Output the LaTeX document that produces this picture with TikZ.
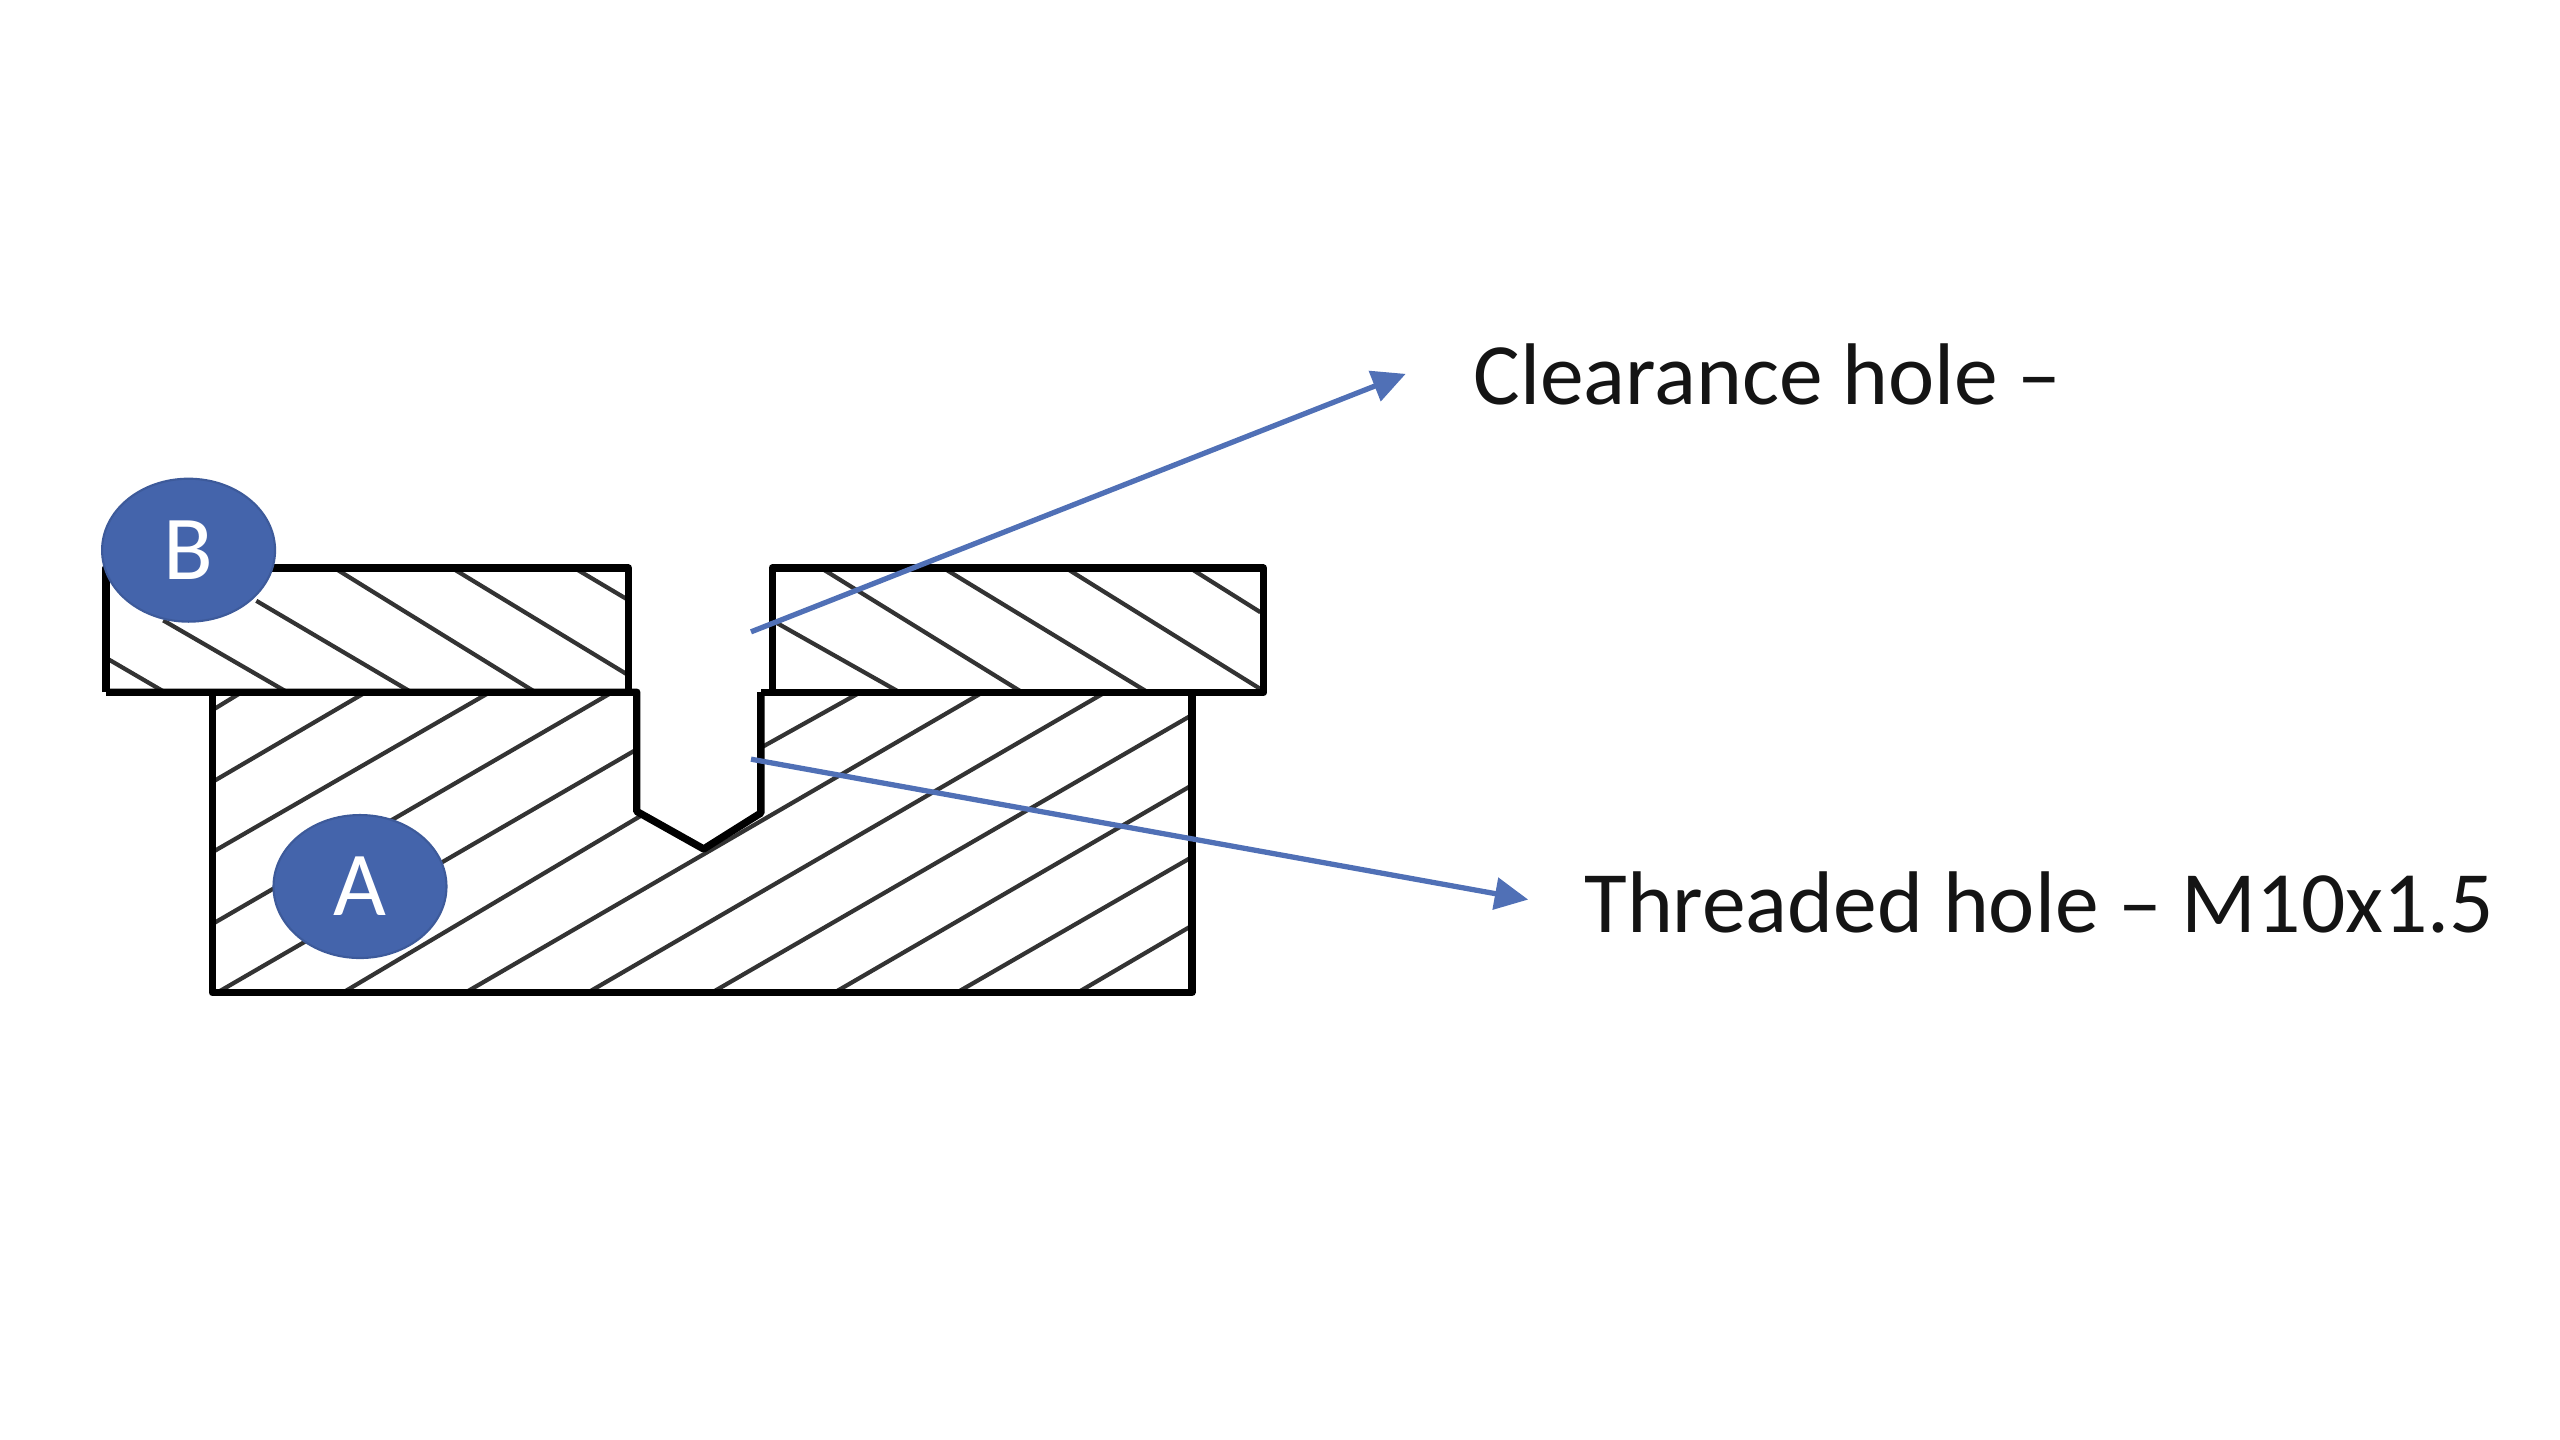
\documentclass[tikz,border=0pt]{standalone}
\usepackage{fontspec}
\setmainfont{Carlito}
\usetikzlibrary{shapes.geometric,arrows.meta}
\definecolor{badgeblue}{HTML}{4464AB}
\definecolor{leaderblue}{HTML}{5070B6}
\definecolor{hatchgray}{HTML}{333333}
\tikzset{
    outline/.style={line width=2.1pt,black,line join=round},
    hatch/.style={line width=1.2pt,hatchgray},
    leader/.style={line width=1.5pt,leaderblue,-{Triangle[length=9.5pt,width=9pt]}},
    badge/.style={ellipse,fill=badgeblue,draw=badgeblue!90!black,line width=.6pt,inner sep=0pt,
        minimum width=1.73cm,minimum height=1.43cm,text=white,font=\fontsize{26pt}{26pt}\selectfont},
    callout/.style={anchor=base west,inner sep=0pt,text=black!92,font=\fontsize{24.9pt}{30pt}\selectfont}
}
\begin{document}
\begin{tikzpicture}[x=.016327cm,y=-.016327cm]
    \useasboundingbox (0,0) rectangle (1568,882);

    % hatching of the plate
    \draw [hatch] (65,403) -- (101,424);
    \draw [hatch] (100,380) -- (176,424);
    \draw [hatch] (157,368) -- (252,424);
    \draw [hatch] (205,348) -- (328,424);
    \draw [hatch] (277,348) -- (384,413);
    \draw [hatch] (352,348) -- (384,367);
    \draw [hatch] (473,380) -- (551,424);
    \draw [hatch] (503,348) -- (626,424);
    \draw [hatch] (578,348) -- (703,424);
    \draw [hatch] (653,348) -- (772,422);
    \draw [hatch] (729,348) -- (772,375);

    % hatching of the block
    \draw [hatch] (130,435) -- (148,424);
    \draw [hatch] (130,479) -- (224,424);
    \draw [hatch] (130,522) -- (300,424);
    \draw [hatch] (130,566) -- (375,424);
    \draw [hatch] (133,608) -- (390,459);
    \draw [hatch] (210,608) -- (392,500);
    \draw [hatch] (466,458) -- (527,424);
    \draw [hatch] (285,608) -- (602,424);
    \draw [hatch] (360,608) -- (677,424);
    \draw [hatch] (436,608) -- (730,438);
    \draw [hatch] (511,608) -- (730,481);
    \draw [hatch] (586,608) -- (730,525);
    \draw [hatch] (660,608) -- (730,567);

    % parts
    \draw [outline] (65,424) -- (65,348) -- (385,348) -- (385,424);
    \draw [outline] (473,424) -- (473,348) -- (774,348) -- (774,424) -- (466,424);
    \draw [outline] (65,424) -- (390,424) -- (390,497) -- (431,520) -- (466,498) -- (466,424);
    \draw [outline] (130,424) -- (130,608) -- (730,608) -- (730,424);

    % labels
    \node [badge] (plate) at (115.5,337) {B};
    \node [badge] (block) at (220.5,543) {A};
    \node [callout] (clearance) at (902,248) {Clearance hole –};
    \node [callout] (threaded) at (970,571) {Threaded hole – M10x1.5};

    % leaders
    \coordinate (clearancestart) at (460,387);
    \coordinate (clearanceend) at (861,229);
    \coordinate (threadedstart) at (460,465);
    \coordinate (threadedend) at (936,551);
    \draw [leader] (clearancestart) -- (clearanceend);
    \draw [leader] (threadedstart) -- (threadedend);
\end{tikzpicture}
\end{document}
